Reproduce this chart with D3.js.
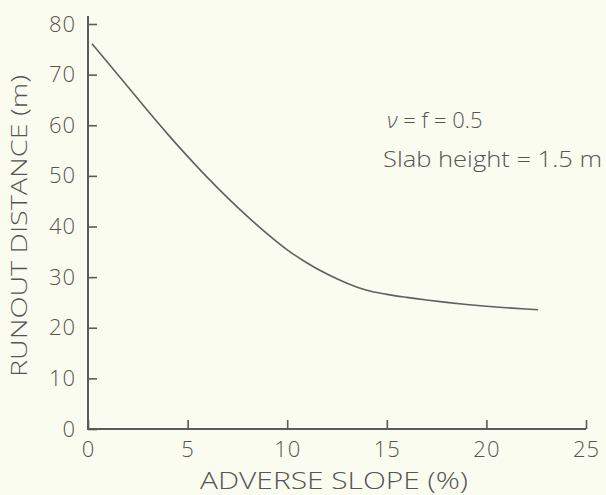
<!DOCTYPE html>
<html>
<head>
<meta charset="utf-8">
<script src="https://cdn.jsdelivr.net/npm/d3@7"></script>
<style>
  html, body { margin: 0; padding: 0; background: #fbfcf0; }
  svg { display: block; }
  text { font-family: "Open Sans", "DejaVu Sans", sans-serif; fill: #555; }
</style>
</head>
<body>
<svg id="chart" width="606" height="495"></svg>
<script>
// Runout distance vs. adverse slope
const slopePct = [0.2, 1, 2, 3, 4, 5, 6, 7, 8, 9, 10, 11, 12, 13, 14, 15, 16, 17, 18, 19, 20, 21, 22, 22.6];
const runoutM  = [76.1, 72.34, 67.6, 62.85, 58.25, 53.85, 49.65, 45.7, 42.0, 38.55, 35.4, 32.8, 30.6, 28.8, 27.4, 26.6, 26.0, 25.48, 25.02, 24.6, 24.24, 23.94, 23.69, 23.57];
const xTicks = [0, 5, 10, 15, 20, 25];
const yTicks = [0, 10, 20, 30, 40, 50, 60, 70, 80];
const xTitle = "ADVERSE SLOPE (%)";
const yTitle = "RUNOUT DISTANCE (m)";
const noteSymbol = "\u03BD";
const noteRest = " = f = 0.5";
const noteSlab = "Slab height = 1.5 m";

const svg = d3.select("#chart");
const ink = "#5a5a58";

const x = d3.scaleLinear().domain([0, 25]).range([88, 586]);
const y = d3.scaleLinear().domain([0, 80]).range([429, 24]);

// x axis: ticks point up into the plot
const gx = svg.append("g")
  .attr("transform", `translate(0,${y(0)})`)
  .call(d3.axisBottom(x).tickValues(xTicks).tickSizeInner(-9).tickSizeOuter(0).tickPadding(12));

// y axis: ticks point right into the plot
const gy = svg.append("g")
  .attr("transform", `translate(${x(0)},0)`)
  .call(d3.axisLeft(y).tickValues(yTicks).tickSizeInner(-9).tickSizeOuter(0).tickPadding(12));

[gx, gy].forEach(g => {
  g.select(".domain").remove();
  g.selectAll(".tick line").attr("stroke", ink).attr("stroke-width", 1.6);
  g.selectAll(".tick text")
    .style("font-size", "22px").style("font-weight", 300)
    .style("letter-spacing", "1px")
    .attr("fill", "#555");
});

// axis lines (vertical one runs a little past 80)
svg.append("line")
  .attr("x1", x(0)).attr("x2", x(0))
  .attr("y1", y(0) + 1).attr("y2", y(81.6))
  .attr("stroke", ink).attr("stroke-width", 2);
svg.append("line")
  .attr("x1", x(0) - 1).attr("x2", x(25))
  .attr("y1", y(0)).attr("y2", y(0))
  .attr("stroke", ink).attr("stroke-width", 2);

// curve
const pts = slopePct.map((s, i) => [s, runoutM[i]]);
svg.append("path")
  .datum(pts)
  .attr("fill", "none")
  .attr("stroke", "#606060")
  .attr("stroke-width", 1.6)
  .attr("d", d3.line().x(d => x(d[0])).y(d => y(d[1])).curve(d3.curveMonotoneX));

// axis titles
svg.append("text")
  .attr("x", 334).attr("y", 489)
  .attr("text-anchor", "middle")
  .attr("textLength", 268).attr("lengthAdjust", "spacingAndGlyphs")
  .style("font-size", "23px").style("font-weight", 300)
  .text(xTitle);

svg.append("text")
  .attr("transform", "translate(27,226) rotate(-90)")
  .attr("text-anchor", "middle")
  .attr("textLength", 302).attr("lengthAdjust", "spacingAndGlyphs")
  .style("font-size", "22px").style("font-weight", 300)
  .text(yTitle);

// annotation
const n1 = svg.append("text")
  .attr("x", 387).attr("y", 128)
  .style("font-size", "22px").style("font-weight", 300);
n1.append("tspan").style("font-style", "italic").text(noteSymbol);
n1.append("tspan").text(noteRest);

svg.append("text")
  .attr("x", 383).attr("y", 167)
  .style("font-size", "22px").style("font-weight", 300)
  .attr("textLength", 219).attr("lengthAdjust", "spacingAndGlyphs")
  .text(noteSlab);
</script>
</body>
</html>
